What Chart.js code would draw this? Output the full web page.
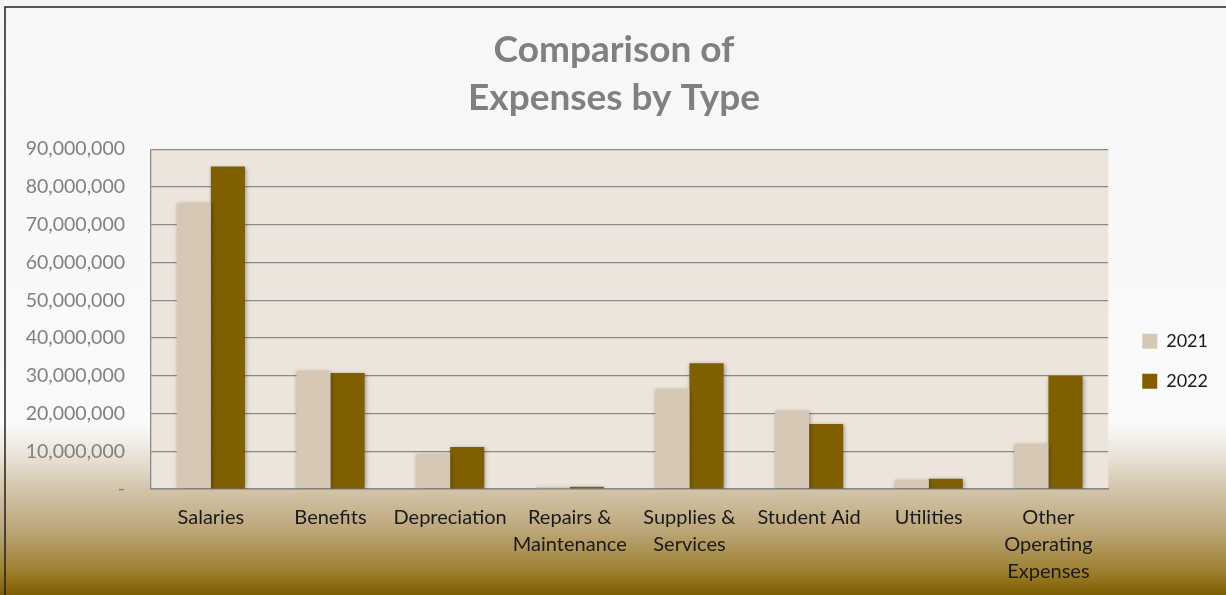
<!DOCTYPE html>
<html>
<head>
<meta charset="utf-8">
<script src="https://cdn.jsdelivr.net/npm/chart.js@4"></script>
<style>
  html, body { margin: 0; padding: 0; background: #fff; }
  #wrap { width: 1226px; height: 595px; position: relative; }
</style>
</head>
<body>
<div id="wrap"><canvas id="expenseChart" width="1226" height="595"></canvas></div>
<script>
var categories = ["Salaries", "Benefits", "Depreciation", ["Repairs &", "Maintenance"], ["Supplies &", "Services"], "Student Aid", "Utilities", ["Other", "Operating", "Expenses"]];
var expenses2021 = [75700000, 31200000, 9300000, 500000, 26500000, 20600000, 2300000, 11900000];
var expenses2022 = [85400000, 30700000, 11100000, 600000, 33300000, 17200000, 2700000, 29900000];
var yTicks = [0, 10000000, 20000000, 30000000, 40000000, 50000000, 60000000, 70000000, 80000000, 90000000];

// page + plot backgrounds, frame
var backdrop = {
    id: "backdrop",
    beforeDraw: function (chart) {
        var c = chart.ctx, w = chart.width, h = chart.height;
        var g = c.createLinearGradient(0, 0, 0, h);
        g.addColorStop(0, "#f7f7f7");
        g.addColorStop(0.71, "#fafafa");
        g.addColorStop(0.76, "#ece6dc");
        g.addColorStop(0.82, "#d4c6ac");
        g.addColorStop(0.89, "#bca77a");
        g.addColorStop(0.96, "#9e8030");
        g.addColorStop(1, "#7d5d00");
        c.save();
        c.fillStyle = g;
        c.fillRect(0, 0, w, h);
        var a = chart.chartArea;
        c.fillStyle = "#ede5dc";
        c.fillRect(a.left, a.top, a.right - a.left, a.bottom - a.top);
        c.strokeStyle = "#222";
        c.lineWidth = 1.5;
        c.beginPath();
        c.moveTo(5, h);
        c.lineTo(5, 7);
        c.lineTo(w, 7);
        c.stroke();
        c.restore();
    },
    beforeDatasetsDraw: function (chart) {
        var c = chart.ctx;
        c.save();
        c.shadowColor = "rgba(0,0,0,0.35)";
        c.shadowBlur = 4;
        c.shadowOffsetX = 1;
        c.shadowOffsetY = 1;
    },
    afterDatasetsDraw: function (chart) {
        chart.ctx.restore();
    }
};

var ctxx = document.getElementById("expenseChart").getContext("2d");

var myChart = new Chart(ctxx, {
    type: "bar",
    data: {
        labels: categories,
        datasets: [
            {
                label: "2021",
                data: expenses2021,
                backgroundColor: "#d6c8b4",
                categoryPercentage: 0.57,
                barPercentage: 1.0,
            },
            {
                label: "2022",
                data: expenses2022,
                backgroundColor: "#7f5f00",
                categoryPercentage: 0.57,
                barPercentage: 1.0,
            },
        ],
    },
    plugins: [backdrop],
    options: {
        responsive: false,
        animation: false,
        devicePixelRatio: 1,
        layout: { padding: { left: 10, right: 8, top: 0, bottom: 3 } },
        font: { family: "Lato" },
        scales: {
            x: {
                grid: { display: false },
                border: { color: "#888", width: 1.5 },
                ticks: {
                    color: "#1a1a1a",
                    font: { family: "Lato", size: 20, lineHeight: 1.35 },
                    padding: 7,
                    maxRotation: 0,
                    autoSkip: false,
                },
            },
            y: {
                min: 0,
                max: 90000000,
                afterBuildTicks: function (axis) {
                    axis.ticks = yTicks.map(function (v) { return { value: v }; });
                },
                afterFit: function (axis) { axis.width = 141; },
                grid: { color: "#8a8a8a", lineWidth: 1.3, drawTicks: false },
                border: { color: "#8a8a8a", width: 1.3 },
                ticks: {
                    color: "#808080",
                    font: { family: "Lato", size: 19.5 },
                    padding: 26,
                    callback: function (v) {
                        return v === 0 ? "-" : v.toLocaleString("en-US");
                    },
                },
            },
            // spacer between plot and legend
            gap: {
                type: "linear",
                position: "right",
                display: true,
                afterFit: function (axis) { axis.width = 12; },
                grid: { display: false },
                border: { display: false },
                ticks: { display: false },
            },
        },
        plugins: {
            title: {
                display: true,
                text: ["Comparison of", "Expenses by Type"],
                color: "#808080",
                font: { family: "Lato", size: 37, weight: "bold", lineHeight: 1.3 },
                padding: { top: 26, bottom: 27 },
            },
            legend: {
                position: "right",
                title: { display: true, text: "", padding: { top: 96, bottom: 20 } },
                labels: {
                    color: "#1a1a1a",
                    font: { family: "Lato", size: 18 },
                    boxWidth: 15,
                    boxHeight: 15,
                    padding: 22,
                },
            },
            tooltip: {
                enabled: true,
                mode: "nearest",
            },
        },
    },
});
</script>
</body>
</html>
